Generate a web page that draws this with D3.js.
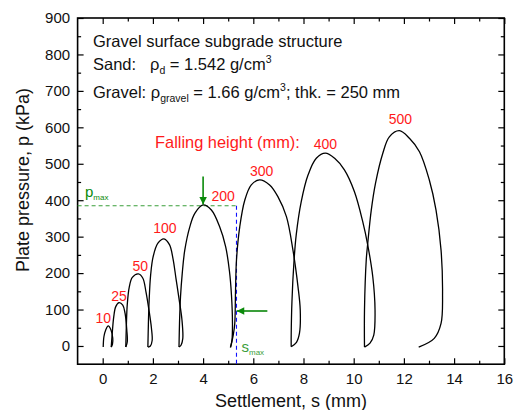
<!DOCTYPE html>
<html><head><meta charset="utf-8">
<script src="https://cdn.jsdelivr.net/npm/d3@7"></script>
<style>
body{margin:0;background:#fff}
svg{display:block}
text{font-family:"Liberation Sans",Arial,Helvetica,sans-serif}
</style>
</head><body>
<svg id="chart" width="517" height="410"></svg>
<script>
// ---- data (settlement s in mm, plate pressure p in kPa) ----
const fallingHeights = [10, 25, 50, 100, 200, 300, 400, 500];
const loop10 = [[0.02,-3],[0.05,26],[0.12,44],[0.22,55],[0.33,44],[0.40,22],[0.39,5],[0.34,-3]];
const loop25 = [[0.34,-3],[0.38,35],[0.44,80],[0.52,108],[0.65,119],[0.80,112],[0.89,90],[0.96,44],[0.98,12],[0.92,-3]];
const loop50 = [[0.92,-3],[0.94,50],[0.98,115],[1.06,162],[1.18,188],[1.42,198],[1.60,186],[1.72,150],[1.84,100],[1.94,50],[1.97,15],[1.90,0],[1.80,-3]];
const loop100 = [[1.80,-3],[1.82,60],[1.85,125],[1.91,195],[2.01,245],[2.20,282],[2.44,294],[2.66,278],[2.80,240],[2.92,185],[3.04,130],[3.16,70],[3.19,20],[3.12,2],[3.04,-3]];
const loop200 = [[3.04,-3],[3.06,62],[3.10,135],[3.17,200],[3.27,263],[3.47,327],[3.67,364],[4.00,387],[4.33,373],[4.66,327],[4.90,272],[5.05,205],[5.13,140],[5.17,62],[5.15,15],[5.09,-4]];
const loop300 = [[5.09,-4],[5.20,30],[5.26,60],[5.29,145],[5.33,236],[5.46,327],[5.66,400],[5.92,442],[6.25,456],[6.65,442],[6.98,410],[7.32,355],[7.58,263],[7.78,163],[7.87,99],[7.84,35],[7.72,10],[7.51,-2]];
const loop400 = [[7.51,-2],[7.51,30],[7.54,122],[7.62,231],[7.71,305],[7.91,396],[8.18,469],[8.51,515],[8.87,529],[9.24,515],[9.63,483],[10.03,423],[10.36,341],[10.56,277],[10.76,190],[10.85,99],[10.80,30],[10.65,8],[10.43,-3]];
const loop500 = [[10.43,-3],[10.43,99],[10.50,236],[10.56,282],[10.70,373],[10.87,447],[11.16,529],[11.42,574],[11.82,591],[12.22,570],[12.62,533],[13.01,456],[13.28,373],[13.48,263],[13.54,145],[13.48,62],[13.21,21],[12.59,-3]];
const pMax = 385;
const sMax = 5.33;
const arrowDown = [[4.0, 465], [4.0, 388]];
const arrowLeft = [[6.56, 96], [5.34, 96]];
const xTicks = [0, 2, 4, 6, 8, 10, 12, 14, 16];
const xMinorTicks = [1, 3, 5, 7, 9, 11, 13, 15];
const yTicks = [0, 100, 200, 300, 400, 500, 600, 700, 800, 900];
const yMinorTicks = [50, 150, 250, 350, 450, 550, 650, 750, 850];

const loops = [loop10, loop25, loop50, loop100, loop200, loop300, loop400, loop500];

// ---- layout ----
const L = 77.6, R = 504.3, T = 18, B = 364.2;
const svg = d3.select("#chart");
const x = d3.scaleLinear().domain([-1, 16]).range([L, R]);
const y = d3.scaleLinear().domain([-50, 900]).range([B, T]);
const RED = "#ff1a1a", GREEN = "#0a8a0a", DGREEN = "#3a9e3a", BLUE = "#1010ff";

// defs: arrow heads
const defs = svg.append("defs");
defs.append("marker").attr("id","ah").attr("viewBox","0 0 10 10").attr("refX",10).attr("refY",5)
  .attr("markerUnits","userSpaceOnUse").attr("markerWidth",9).attr("markerHeight",7.5).attr("orient","auto")
  .append("path").attr("d","M0,0L10,5L0,10Z").attr("fill",GREEN);

// axes
function styleAxis(g){ g.select(".domain").remove(); g.selectAll("line").attr("stroke","#000").attr("stroke-width",1.2);
  g.selectAll("text").attr("font-size","15px").attr("fill","#111").attr("font-family","'Liberation Sans',Arial,sans-serif"); }

svg.append("g").attr("transform",`translate(0,${B})`)
  .call(d3.axisBottom(x).tickValues(xTicks).tickFormat(d3.format("d")).tickSize(-6).tickPadding(9)).call(styleAxis);
svg.append("g").attr("transform",`translate(0,${B})`)
  .call(d3.axisBottom(x).tickValues(xMinorTicks).tickFormat("").tickSize(-3.5)).call(styleAxis);
svg.append("g").attr("transform",`translate(0,${T})`)
  .call(d3.axisTop(x).tickValues(xTicks).tickFormat("").tickSize(-6)).call(styleAxis);
svg.append("g").attr("transform",`translate(0,${T})`)
  .call(d3.axisTop(x).tickValues(xMinorTicks).tickFormat("").tickSize(-3.5)).call(styleAxis);
svg.append("g").attr("transform",`translate(${L},0)`)
  .call(d3.axisLeft(y).tickValues(yTicks).tickFormat(d3.format("d")).tickSize(-6).tickPadding(7.5)).call(styleAxis);
svg.append("g").attr("transform",`translate(${L},0)`)
  .call(d3.axisLeft(y).tickValues(yMinorTicks).tickFormat("").tickSize(-3.5)).call(styleAxis);
svg.append("g").attr("transform",`translate(${R},0)`)
  .call(d3.axisRight(y).tickValues(yTicks).tickFormat("").tickSize(-6)).call(styleAxis);
svg.append("g").attr("transform",`translate(${R},0)`)
  .call(d3.axisRight(y).tickValues(yMinorTicks).tickFormat("").tickSize(-3.5)).call(styleAxis);

// frame
svg.append("rect").attr("x",L).attr("y",T).attr("width",R-L).attr("height",B-T)
  .attr("fill","none").attr("stroke","#000").attr("stroke-width",1.6);

// axis titles
svg.append("text").attr("x",(L+R)/2).attr("y",407).attr("text-anchor","middle")
  .attr("font-size","18px").attr("fill","#111").text("Settlement, s (mm)");
svg.append("text").attr("transform","translate(29,180) rotate(-90)").attr("text-anchor","middle")
  .attr("font-size","18px").attr("fill","#111").text("Plate pressure, p (kPa)");

// pmax / smax guides
svg.append("line").attr("x1",L).attr("x2",x(sMax)).attr("y1",y(pMax)).attr("y2",y(pMax))
  .attr("stroke",DGREEN).attr("stroke-width",1.1).attr("stroke-dasharray","4,3");
svg.append("line").attr("x1",x(sMax)).attr("x2",x(sMax)).attr("y1",y(pMax)).attr("y2",B)
  .attr("stroke",BLUE).attr("stroke-width",1.1).attr("stroke-dasharray","4,3");

// loops
const line = d3.line().x(d => x(d[0])).y(d => y(d[1])).curve(d3.curveCatmullRom.alpha(0.5));
svg.append("g").selectAll("path").data(loops).join("path")
  .attr("d", line).attr("fill","none").attr("stroke","#000").attr("stroke-width",1.3);

// loop labels
const labelDx = [-5, 0, 2, 1, 20, 2, 0, 1];
const labelDy = [-3, -2, -2.5, -6, -3.5, -3.5, -4.5, -6.5];
loops.forEach((lp, i) => {
  const pk = lp.reduce((a, b) => (b[1] > a[1] ? b : a));
  svg.append("text").attr("x", x(pk[0]) + labelDx[i]).attr("y", y(pk[1]) + labelDy[i])
    .attr("text-anchor","middle").attr("font-size","14px").attr("fill",RED).text(fallingHeights[i]);
});

// arrows
svg.append("line").attr("x1",x(arrowDown[0][0])).attr("y1",y(arrowDown[0][1]))
  .attr("x2",x(arrowDown[1][0])).attr("y2",y(arrowDown[1][1]))
  .attr("stroke",GREEN).attr("stroke-width",1.6).attr("marker-end","url(#ah)");
svg.append("line").attr("x1",x(arrowLeft[0][0])).attr("y1",y(arrowLeft[0][1]))
  .attr("x2",x(arrowLeft[1][0])).attr("y2",y(arrowLeft[1][1]))
  .attr("stroke",DGREEN).attr("stroke-width",2).attr("marker-end","url(#ah)");

// pmax / smax labels
const pl = svg.append("text").attr("x",85).attr("y",196.5).attr("fill",GREEN).attr("font-size","15px");
pl.append("tspan").text("p");
pl.append("tspan").attr("dy",3.5).attr("font-size","8px").text("max");
const sl = svg.append("text").attr("x",241.5).attr("y",351.5).attr("fill",DGREEN).attr("font-size","15px");
sl.append("tspan").text("s");
sl.append("tspan").attr("dy",3).attr("font-size","8px").text("max");

// annotation block
const ann = svg.append("g").attr("font-size","16.5px").attr("fill","#111");
ann.append("text").attr("x",93).attr("y",46.5).text("Gravel surface subgrade structure");
const t2 = ann.append("text").attr("x",93).attr("y",70);
t2.append("tspan").text("Sand:");
t2.append("tspan").attr("x",150).text("ρ");
t2.append("tspan").attr("dy",4).attr("font-size","10.5px").text("d");
t2.append("tspan").attr("dy",-4).text(" = 1.542 g/cm");
t2.append("tspan").attr("dy",-7).attr("font-size","10.5px").text("3");
const t3 = ann.append("text").attr("x",93).attr("y",98);
t3.append("tspan").text("Gravel: ");
t3.append("tspan").text("ρ");
t3.append("tspan").attr("dy",4).attr("font-size","10.5px").text("gravel");
t3.append("tspan").attr("dy",-4).text(" = 1.66 g/cm");
t3.append("tspan").attr("dy",-7).attr("font-size","10.5px").text("3");
t3.append("tspan").attr("dy",7).text("; thk. = 250 mm");

svg.append("text").attr("x",155).attr("y",147.5).attr("font-size","16.4px").attr("fill",RED).text("Falling height (mm):");
</script>
</body></html>
